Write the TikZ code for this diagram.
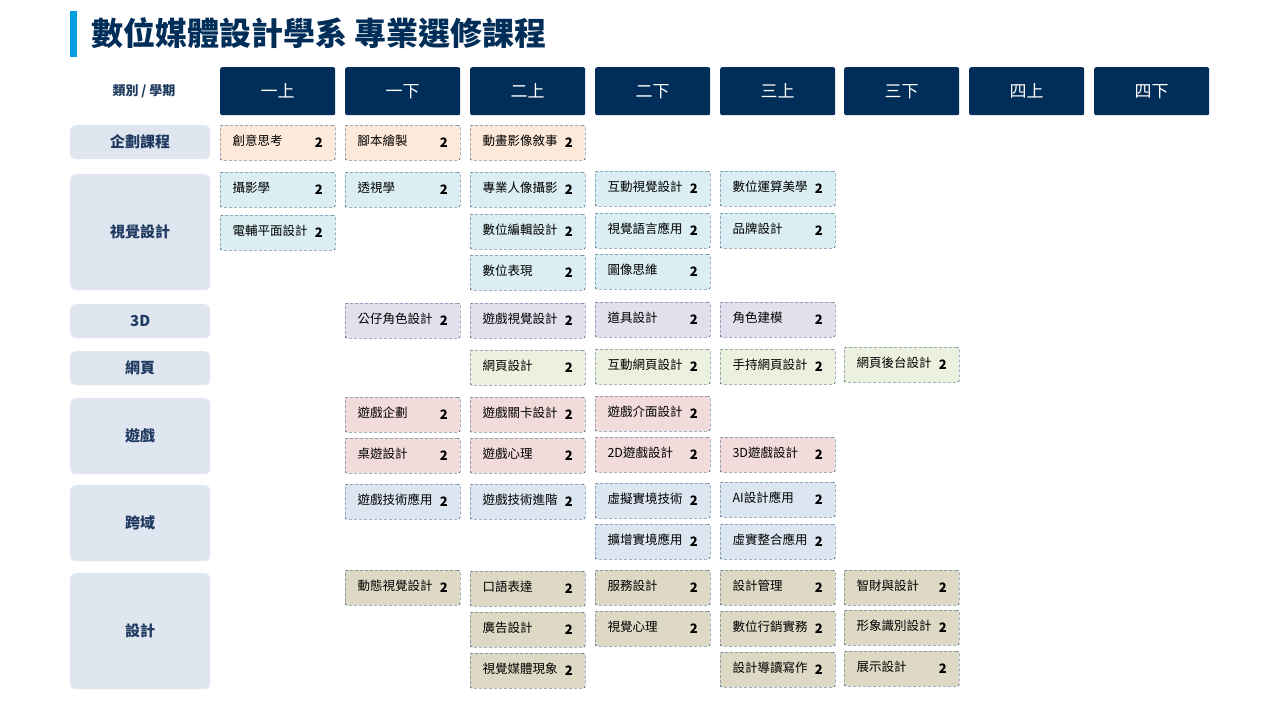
\documentclass[tikz,border=0pt]{standalone}
\usepackage{fontspec}
\setmainfont{Noto Sans CJK TC}
\definecolor{navy}{HTML}{002E58}
\definecolor{cattxt}{HTML}{1F3A60}
\definecolor{catbg}{HTML}{DFE6EF}
\definecolor{cPl}{HTML}{FDE9D9}
\definecolor{cVi}{HTML}{DAEEF3}
\definecolor{c3D}{HTML}{E4DFEC}
\definecolor{cWe}{HTML}{EBF1DE}
\definecolor{cGa}{HTML}{F2DCDB}
\definecolor{cCr}{HTML}{DCE6F1}
\definecolor{cDe}{HTML}{DDD9C4}
\definecolor{accent}{HTML}{00A0E0}
\tikzset{
 hdr/.style={fill=navy,rounded corners=2pt,minimum width=115pt,minimum height=48pt,text=white,font=\fontsize{17}{17}\selectfont,inner sep=0pt},
 cat/.style={fill=catbg,rounded corners=5pt,minimum width=140pt,inner sep=0pt,text=cattxt,font=\fontsize{15}{15}\selectfont\bfseries},
 crs/.style={draw=navy,densely dashed,rounded corners=2pt,minimum width=115pt,minimum height=35pt,inner sep=0pt},
}
\newcommand\colx[1]{\ifcase#1 220\or 345\or 470\or 595\or 720\or 844\or 969\or 1094\fi}
\newcommand\crsbox[4]{%
 \node[crs,fill=#4,anchor=north west] (k#1-#2) at (\colx{#1},#2) {};
 \node[anchor=west,font=\fontsize{12.5}{12.5}\selectfont] (kn#1-#2) at ([xshift=9pt,yshift=2pt]k#1-#2.west) {#3};
 \node[anchor=east,font=\fontsize{13}{13}\selectfont\bfseries] (kc#1-#2) at ([xshift=-9pt]k#1-#2.east) {2};}
\begin{document}
\begin{tikzpicture}[x=1pt,y=-1pt]
\useasboundingbox[fill=white] (0,0) rectangle (1280,720);
\fill[accent] (70,11) rectangle (77,57);
\node[anchor=west,text=navy,font=\fontsize{32}{32}\selectfont\bfseries] (title) at (88,33) {數位媒體設計學系 專業選修課程};
\node[text=cattxt,font=\fontsize{13}{13}\selectfont\bfseries] (lab) at (144,91) {類別 / 學期};
\foreach \i/\t in {0/一上,1/一下,2/二上,3/二下,4/三上,5/三下,6/四上,7/四下}
 \node[hdr,anchor=north west] (h\i) at (\colx{\i},67) {\t};
\foreach \n/\a/\b in {企劃課程/125/159,視覺設計/174/290,3D/304/338,網頁/351/385,遊戲/398/474,跨域/485/561,設計/573/689}
 \node[cat,minimum height=\b-\a,anchor=north west] (cat\n) at (70,\a) {\n};
\crsbox{0}{125}{創意思考}{cPl}
\crsbox{1}{125}{腳本繪製}{cPl}
\crsbox{2}{125}{動畫影像敘事}{cPl}
\crsbox{0}{172}{攝影學}{cVi}
\crsbox{0}{215}{電輔平面設計}{cVi}
\crsbox{1}{172}{透視學}{cVi}
\crsbox{2}{172}{專業人像攝影}{cVi}
\crsbox{2}{214}{數位編輯設計}{cVi}
\crsbox{2}{255}{數位表現}{cVi}
\crsbox{3}{171}{互動視覺設計}{cVi}
\crsbox{3}{213}{視覺語言應用}{cVi}
\crsbox{3}{254}{圖像思維}{cVi}
\crsbox{4}{171}{數位運算美學}{cVi}
\crsbox{4}{213}{品牌設計}{cVi}
\crsbox{1}{303}{公仔角色設計}{c3D}
\crsbox{2}{303}{遊戲視覺設計}{c3D}
\crsbox{3}{302}{道具設計}{c3D}
\crsbox{4}{302}{角色建模}{c3D}
\crsbox{2}{350}{網頁設計}{cWe}
\crsbox{3}{349}{互動網頁設計}{cWe}
\crsbox{4}{349}{手持網頁設計}{cWe}
\crsbox{5}{347}{網頁後台設計}{cWe}
\crsbox{1}{397}{遊戲企劃}{cGa}
\crsbox{1}{438}{桌遊設計}{cGa}
\crsbox{2}{397}{遊戲關卡設計}{cGa}
\crsbox{2}{438}{遊戲心理}{cGa}
\crsbox{3}{396}{遊戲介面設計}{cGa}
\crsbox{3}{437}{2D遊戲設計}{cGa}
\crsbox{4}{437}{3D遊戲設計}{cGa}
\crsbox{1}{484}{遊戲技術應用}{cCr}
\crsbox{2}{484}{遊戲技術進階}{cCr}
\crsbox{3}{483}{虛擬實境技術}{cCr}
\crsbox{3}{524}{擴增實境應用}{cCr}
\crsbox{4}{482}{AI設計應用}{cCr}
\crsbox{4}{524}{虛實整合應用}{cCr}
\crsbox{1}{570}{動態視覺設計}{cDe}
\crsbox{2}{571}{口語表達}{cDe}
\crsbox{2}{612}{廣告設計}{cDe}
\crsbox{2}{653}{視覺媒體現象}{cDe}
\crsbox{3}{570}{服務設計}{cDe}
\crsbox{3}{611}{視覺心理}{cDe}
\crsbox{4}{570}{設計管理}{cDe}
\crsbox{4}{611}{數位行銷實務}{cDe}
\crsbox{4}{652}{設計導讀寫作}{cDe}
\crsbox{5}{570}{智財與設計}{cDe}
\crsbox{5}{610}{形象識別設計}{cDe}
\crsbox{5}{651}{展示設計}{cDe}
\end{tikzpicture}
\end{document}
